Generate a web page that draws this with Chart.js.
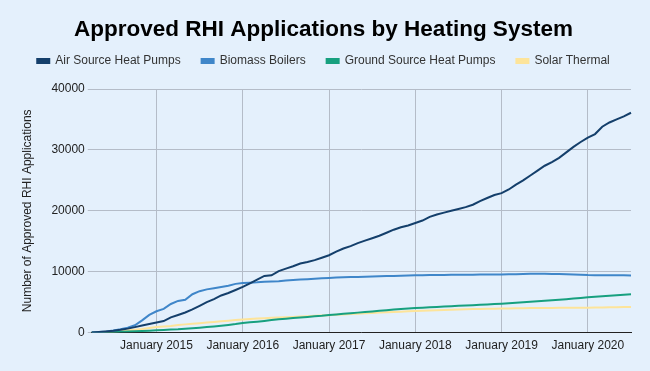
<!DOCTYPE html>
<html>
<head>
<meta charset="utf-8">
<script src="https://cdn.jsdelivr.net/npm/chart.js@4.4.1/dist/chart.umd.min.js"></script>
<style>
  html, body { margin: 0; padding: 0; background: #e4f0fc; }
  #wrap { width: 650px; height: 371px; }
</style>
</head>
<body>
<div id="wrap"><canvas id="rhiChart" width="650" height="371"></canvas></div>
<script>
// monthly, April 2014 to July 2020
months = [
  'April 2014','May 2014','June 2014','July 2014','August 2014','September 2014','October 2014','November 2014','December 2014',
  'January 2015','February 2015','March 2015','April 2015','May 2015','June 2015','July 2015','August 2015','September 2015','October 2015','November 2015','December 2015',
  'January 2016','February 2016','March 2016','April 2016','May 2016','June 2016','July 2016','August 2016','September 2016','October 2016','November 2016','December 2016',
  'January 2017','February 2017','March 2017','April 2017','May 2017','June 2017','July 2017','August 2017','September 2017','October 2017','November 2017','December 2017',
  'January 2018','February 2018','March 2018','April 2018','May 2018','June 2018','July 2018','August 2018','September 2018','October 2018','November 2018','December 2018',
  'January 2019','February 2019','March 2019','April 2019','May 2019','June 2019','July 2019','August 2019','September 2019','October 2019','November 2019','December 2019',
  'January 2020','February 2020','March 2020','April 2020','May 2020','June 2020','July 2020'
]

airSource = [
  0, 100, 200, 300, 450, 650, 900, 1150, 1400,
  1650, 1900, 2500, 2900, 3300, 3800, 4400, 5000, 5500, 6100, 6500, 7000,
  7500, 8100, 8700, 9300, 9400, 10100, 10500, 10900, 11350, 11600, 11900, 12300,
  12700, 13300, 13800, 14200, 14700, 15100, 15500, 15900, 16400, 16900, 17300, 17600,
  18000, 18400, 19000, 19400, 19700, 20000, 20300, 20600, 21000, 21600, 22100, 22600,
  22900, 23500, 24300, 25000, 25800, 26600, 27400, 28000, 28700, 29600, 30500, 31300,
  32000, 32600, 33800, 34500, 35000, 35500, 36100
]

biomass = [
  0, 80, 200, 350, 550, 800, 1200, 2000, 2900,
  3500, 3900, 4700, 5200, 5400, 6300, 6800, 7100, 7300, 7500, 7700, 8000,
  8150, 8200, 8250, 8350, 8400, 8450, 8550, 8650, 8720, 8780, 8850, 8920,
  8980, 9030, 9080, 9120, 9150, 9180, 9210, 9250, 9280, 9310, 9340, 9370,
  9400, 9420, 9440, 9460, 9470, 9480, 9490, 9500, 9510, 9520, 9530, 9550,
  9560, 9580, 9600, 9620, 9650, 9670, 9660, 9640, 9620, 9590, 9560, 9500,
  9450, 9430, 9420, 9410, 9400, 9400, 9390
]

groundSource = [
  0, 20, 50, 80, 120, 170, 220, 270, 320,
  380, 430, 490, 540, 620, 700, 800, 900, 1000, 1120, 1250, 1400,
  1580, 1700, 1800, 1920, 2050, 2180, 2280, 2380, 2480, 2580, 2680, 2750,
  2880, 2980, 3080, 3180, 3280, 3380, 3480, 3580, 3680, 3780, 3880, 3960,
  4040, 4100, 4160, 4220, 4280, 4340, 4400, 4450, 4500, 4560, 4620, 4690,
  4750, 4830, 4920, 5000, 5080, 5160, 5240, 5320, 5400, 5480, 5580, 5680,
  5800, 5880, 5960, 6040, 6120, 6200, 6280
]

solarThermal = [
  0, 60, 120, 200, 280, 380, 480, 600, 750,
  900, 1000, 1100, 1250, 1350, 1450, 1550, 1650, 1750, 1850, 1950, 2050,
  2150, 2230, 2300, 2370, 2430, 2480, 2530, 2580, 2640, 2700, 2760, 2800,
  2860, 2920, 2980, 3040, 3100, 3160, 3220, 3280, 3330, 3380, 3430, 3490,
  3540, 3580, 3620, 3660, 3700, 3740, 3780, 3820, 3860, 3890, 3910, 3930,
  3940, 3960, 3980, 4000, 4020, 4030, 4040, 4050, 4060, 4070, 4080, 4090,
  4100, 4120, 4140, 4160, 4180, 4190, 4200
]

yTicks = [0, 10000, 20000, 30000, 40000]

FONT = "'Liberation Sans', Arial, sans-serif"
GRID = '#b4bcc8'

function isJanuary(i){
  return months[i] && months[i].indexOf('January') === 0
}

function line(label, data, color){
  return {
    label: label,
    data: data,
    borderColor: color,
    backgroundColor: color,
    borderWidth: 2,
    pointRadius: 0,
    tension: 0,
    fill: false
  }
}

// paint the light blue background behind everything
bgPlugin = {
  id: 'bg',
  beforeDraw(chart){
    const ctx = chart.ctx
    ctx.save()
    ctx.fillStyle = '#e4f0fc'
    ctx.fillRect(0, 0, chart.width, chart.height)
    ctx.restore()
  }
}

// more room under the legend
legendGap = {
  id: 'legendGap',
  beforeInit(chart){
    const fit = chart.legend.fit
    chart.legend.fit = function(){
      fit.bind(chart.legend)()
      this.height += 12
    }
  }
}

rhiChart = new Chart(document.getElementById('rhiChart'), {
  type: 'line',
  data: {
    labels: months,
    datasets: [
      line('Air Source Heat Pumps', airSource, '#143f6b'),
      line('Biomass Boilers', biomass, '#3f86c9'),
      line('Ground Source Heat Pumps', groundSource, '#17a07f'),
      line('Solar Thermal', solarThermal, '#fde49a')
    ]
  },
  options: {
    responsive: false,
    animation: false,
    layout: { padding: { left: 16, right: 19, bottom: 12, top: 0 } },
    plugins: {
      title: {
        display: true,
        text: 'Approved RHI Applications by Heating System',
        color: '#000',
        font: { family: FONT, size: 22.5, weight: 'bold', lineHeight: 1 },
        // negative bottom so the wider legend padding doesn't push it down
        padding: { top: 19, bottom: -7.5 }
      },
      legend: {
        position: 'top',
        labels: {
          color: '#333',
          font: { family: FONT, size: 12 },
          boxWidth: 12,
          boxHeight: 4,
          padding: 21
        }
      },
      tooltip: { enabled: false }
    },
    scales: {
      x: {
        type: 'category',
        offset: false,
        grid: {
          drawTicks: false,
          color: ctx => isJanuary(ctx.index) ? GRID : 'rgba(0,0,0,0)'
        },
        border: { display: true, color: '#222', width: 1 },
        ticks: {
          autoSkip: false,
          maxRotation: 0,
          minRotation: 0,
          padding: 6,
          color: '#222',
          font: { family: FONT, size: 12 },
          callback: function(v, i){ return isJanuary(i) ? months[i] : '' }
        }
      },
      y: {
        min: 0,
        max: 40000,
        afterBuildTicks: axis => { axis.ticks = yTicks.map(v => ({ value: v })) },
        grid: { color: GRID, tickLength: 4 },
        border: { display: false },
        ticks: {
          padding: 3,
          color: '#222',
          font: { family: FONT, size: 12 },
          callback: v => String(v)
        },
        title: {
          display: true,
          text: 'Number of Approved RHI Applications',
          color: '#222',
          font: { family: FONT, size: 12 },
          padding: { top: 4, bottom: 14 }
        }
      }
    }
  },
  plugins: [bgPlugin, legendGap]
})
</script>
</body>
</html>
